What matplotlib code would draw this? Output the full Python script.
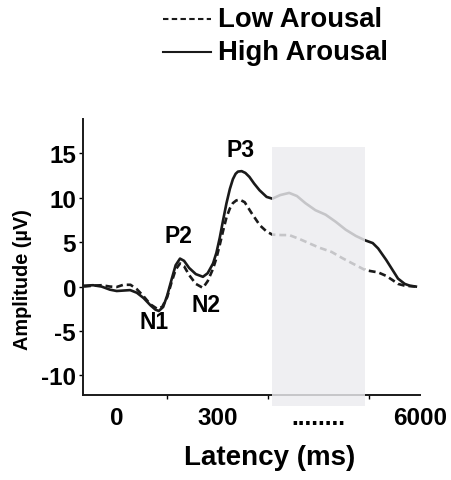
import matplotlib

matplotlib.use("Agg")
import matplotlib.pyplot as plt
from matplotlib.lines import Line2D
from matplotlib.patches import Rectangle

plt.rcParams["font.family"] = ["Liberation Sans", "DejaVu Sans"]
plt.rcParams["font.weight"] = "bold"
plt.rcParams["axes.unicode_minus"] = False

# latency (ms, on the plotted axis) and amplitude (uV)
lat_high = [-97, -70, -45, -20, 0, 20, 40, 60, 80, 100, 115, 125, 138, 150, 163, 175,
            188, 200, 215, 235, 256, 270, 286, 296, 306, 316, 326, 336, 345, 353, 360,
            371, 382, 394, 408, 424, 445, 462, 485, 512, 535, 560, 590, 620, 650, 680,
            710, 738, 760, 776, 800, 820, 835, 855, 870, 888]
amp_high = [0.1, 0.15, 0.0, -0.35, -0.5, -0.45, -0.4, -0.7, -1.3, -2.1, -2.6, -2.75, -2.3,
            -1.0, 0.8, 2.4, 3.15, 2.9, 2.1, 1.4, 1.1, 1.5, 2.6, 3.8, 5.5, 7.5, 9.4, 11.0,
            12.1, 12.7, 12.95, 13.0, 12.8, 12.35, 11.6, 10.85, 10.1, 9.9, 10.3, 10.55,
            10.2, 9.4, 8.6, 8.1, 7.3, 6.4, 5.7, 5.2, 4.9, 4.3, 3.0, 1.8, 0.9, 0.3, 0.1, 0.0]

lat_low = [-97, -70, -45, -20, 0, 20, 41, 60, 80, 100, 120, 135, 150, 163, 175, 188, 200,
           215, 235, 256, 270, 286, 296, 306, 316, 326, 336, 345, 355, 365, 380, 400,
           425, 445, 462, 490, 512, 540, 570, 600, 638, 670, 700, 738, 760, 776, 800,
           820, 835, 855, 870, 888]
amp_low = [0.0, 0.1, 0.15, 0.0, -0.05, 0.2, 0.2, -0.3, -1.1, -2.0, -2.5, -2.3, -1.2, 0.5,
           1.9, 2.6, 2.3, 1.3, 0.3, -0.15, 0.6, 2.0, 3.2, 4.7, 6.3, 7.8, 8.8, 9.4, 9.7,
           9.8, 9.5, 8.3, 6.9, 6.2, 5.85, 5.8, 5.8, 5.4, 4.9, 4.4, 3.9, 3.2, 2.6, 1.85,
           1.7, 1.6, 1.2, 0.7, 0.3, 0.1, 0.05, 0.0]

# component labels: (text, latency, amplitude)
peaks = [("N1", 112, -3.9), ("P2", 182, 5.8), ("N2", 265, -2.0), ("P3", 368, 15.4)]

window = (462, 738)          # shaded window (ms)
window_amp = (-13.5, 15.7)   # shaded window extent (uV)

mark_ticks = [0, 150, 300, 450, 600, 750]
label_ticks = [0, 300, 600, 900]
tick_labels = ["0", "300", "........", "6000"]
yticks = [-10, -5, 0, 5, 10, 15]

fig = plt.figure(figsize=(4.51, 4.81), dpi=100)
ax = fig.add_axes([0.184, 0.177, 0.747, 0.574])

ax.plot(lat_low, amp_low, color="#1a1a1a", lw=1.9, dashes=(2.6, 1.5), zorder=2)
ax.plot(lat_high, amp_high, color="#1a1a1a", lw=1.9, zorder=2)

ax.add_patch(Rectangle((window[0], window_amp[0]), window[1] - window[0],
                       window_amp[1] - window_amp[0], facecolor="#ececf0",
                       edgecolor="none", alpha=0.82, zorder=5, clip_on=False))

for txt, x, y in peaks:
    ax.text(x, y, txt, fontsize=16.5, fontweight="bold", ha="center", va="center")

ax.set_xlim(-100, 895)
ax.set_ylim(-12.2, 18.9)
ax.spines[["top", "right"]].set_visible(False)
for s in ("left", "bottom"):
    ax.spines[s].set_linewidth(1.4)
    ax.spines[s].set_color("#1a1a1a")

ax.set_xticks(mark_ticks, minor=True)
ax.set_xticks(label_ticks, tick_labels)
ax.tick_params(axis="x", which="major", length=0, pad=8, labelsize=17.5)
ax.tick_params(axis="x", which="minor", length=3, width=1)
ax.set_yticks(yticks)
ax.tick_params(axis="y", length=3, width=1, pad=2, labelsize=17.5)

ax.set_xlabel("Latency (ms)", fontsize=20, fontweight="bold")
ax.xaxis.set_label_coords(0.555, -0.178)
ax.set_ylabel("Amplitude (\u00b5V)", fontsize=14.3, fontweight="bold")
ax.yaxis.set_label_coords(-0.15, 0.42)

# legend drawn by hand at the top
for y, dash, name in [(0.958, (2.6, 1.6), "Low Arousal"), (0.89, None, "High Arousal")]:
    ln = Line2D([163 / 451, 211 / 451], [y, y], transform=fig.transFigure,
                color="#1a1a1a", lw=1.5)
    if dash:
        ln.set_dashes(dash)
    fig.add_artist(ln)
    fig.text(218 / 451, y, name, fontsize=19.8, fontweight="bold", va="center", ha="left")

fig.savefig("out.png", dpi=100, facecolor="white")
